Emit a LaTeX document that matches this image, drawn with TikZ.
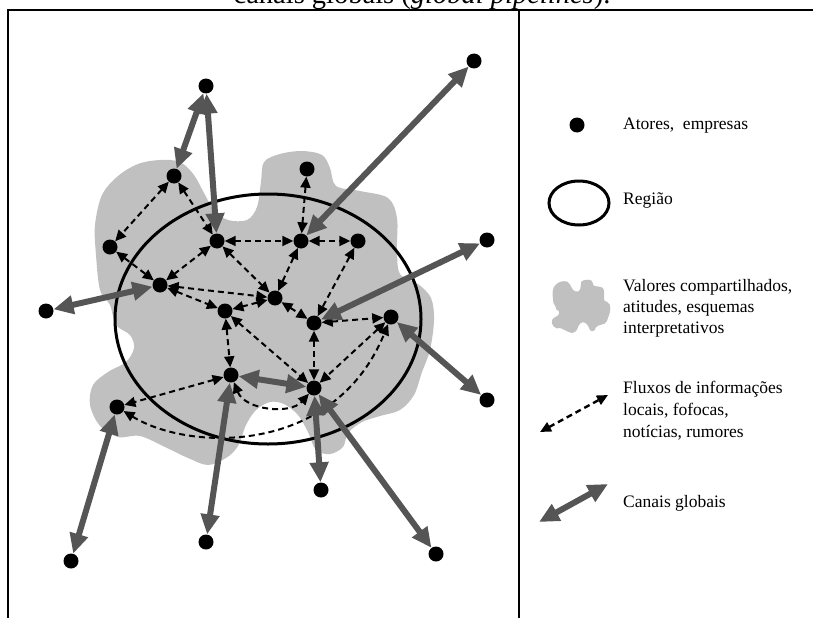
\documentclass[tikz,border=0pt]{standalone}
\usepackage{fontspec}
\setmainfont{Liberation Serif}
\usetikzlibrary{arrows.meta}
\definecolor{pipe}{HTML}{555555}
\definecolor{cloudgray}{HTML}{C0C0C0}
\tikzset{
  dot/.style={circle,fill=black,inner sep=0pt,minimum size=15pt},
  pipeline/.style={draw=pipe,line width=6pt,{Triangle[length=20pt,width=18pt]}-{Triangle[length=20pt,width=18pt]}},
  flow/.style={draw=black,line width=2pt,dash pattern=on 6pt off 4pt,{Triangle[length=11pt,width=10pt]}-{Triangle[length=11pt,width=10pt]}},
  frameline/.style={draw=black,line width=2pt},
  legtext/.style={anchor=base west,inner sep=0pt,font=\fontsize{17.5}{20}\selectfont},
  cloud/.pic={
    \fill[cloudgray] plot[smooth cycle,tension=0.55] coordinates {
      (96,255) (95,225) (102,195) (118,176) (138,164) (160,160) (180,162)
      (194,175) (204,193) (214,210) (228,220) (247,220) (257,207) (261,182)
      (264,162) (280,154) (302,151) (322,155) (330,168) (336,186) (360,191)
      (388,198) (397,218) (397,250) (400,274) (418,284) (431,298) (434,320)
      (430,350) (422,372) (414,395) (400,410) (380,416) (362,422) (348,433)
      (343,447) (330,454) (316,450) (308,432) (298,415) (284,404) (270,402)
      (256,410) (246,425) (238,446) (226,458) (208,465) (188,458) (165,447)
      (140,436) (118,437) (100,426) (90,405) (93,385) (108,372) (126,362)
      (134,348) (130,335) (116,325) (110,305) (100,290)};
  }
}
\begin{document}
\begin{tikzpicture}[x=1pt,y=-1pt]
\useasboundingbox (0,0) rectangle (813,618);

% caption (cut by the page edge, as in the reference)
\node[anchor=base,inner sep=0pt,font=\fontsize{28.5}{32}\selectfont] (caption) at (422,4) {canais globais (\textit{global pipelines}).};

% shared values cloud and region
\pic at (0,0) {cloud};
\draw[line width=3pt] (268,319) ellipse [x radius=153, y radius=125];

% actors
\node[dot] (t1) at (206,86) {};
\node[dot] (tr) at (474,61) {};
\node[dot] (a) at (174,176) {};
\node[dot] (b) at (110,247) {};
\node[dot] (c) at (217,241) {};
\node[dot] (d) at (301,241) {};
\node[dot] (e) at (358,241) {};
\node[dot] (f) at (307,169) {};
\node[dot] (g) at (160,285) {};
\node[dot] (h) at (275,298) {};
\node[dot] (i) at (225,311) {};
\node[dot] (j) at (314,323) {};
\node[dot] (k) at (391,317) {};
\node[dot] (l) at (231,375) {};
\node[dot] (m) at (314,388) {};
\node[dot] (n) at (117,407) {};
\node[dot] (w) at (46,311) {};
\node[dot] (r1) at (487,240) {};
\node[dot] (r2) at (487,400) {};
\node[dot] (b1) at (71,561) {};
\node[dot] (b2) at (206,542) {};
\node[dot] (b3) at (321,490) {};
\node[dot] (b4) at (436,554) {};

% local flows
\draw[flow] (a) -- (b);
\draw[flow] (a) -- (c);
\draw[flow] (b) -- (g);
\draw[flow] (c) -- (g);
\draw[flow] (c) -- (d);
\draw[flow] (c) -- (h);
\draw[flow] (d) -- (e);
\draw[flow] (d) -- (f);
\draw[flow] (d) -- (h);
\draw[flow] (e) -- (j);
\draw[flow] (g) -- (i);
\draw[flow] (g) -- (h);
\draw[flow] (h) -- (i);
\draw[flow] (h) -- (j);
\draw[flow] (j) -- (k);
\draw[flow] (j) -- (m);
\draw[flow] (i) -- (l);
\draw[flow] (i) -- (m);
\draw[flow] (k) -- (m);
\draw[flow] (l) -- (n);
\draw[flow] (l) .. controls (245,410) and (290,415) .. (m);
\draw[flow] (n) .. controls (190,452) and (335,455) .. (k);

% global pipelines
\draw[pipeline] (t1) -- (a);
\draw[pipeline] (t1) -- (c);
\draw[pipeline] (tr) -- (d);
\draw[pipeline] (w) -- (g);
\draw[pipeline] (r1) -- (j);
\draw[pipeline] (k) -- (r2);
\draw[pipeline] (l) -- (m);
\draw[pipeline] (n) -- (b1);
\draw[pipeline] (l) -- (b2);
\draw[pipeline] (m) -- (b3);
\draw[pipeline] (m) -- (b4);

% frame
\draw[frameline] (8,618) -- (8,10) -- (813,10);
\draw[frameline] (519,10) -- (519,618);

% legend
\node[dot] (lgdot) at (577,125) {};
\node[legtext] (lgt1) at (623,129) {Atores,\ \ empresas};
\draw[line width=3pt] (579,203) ellipse [x radius=30, y radius=22];
\node[legtext] (lgt2) at (623,204) {Região};
\pic[scale=0.17] at (536.5,254) {cloud};
\node[legtext] (lgt3a) at (623,291) {Valores compartilhados,};
\node[legtext] (lgt3b) at (623,312) {atitudes, esquemas};
\node[legtext] (lgt3c) at (623,333) {interpretativos};
\coordinate (lf1) at (540,432);
\coordinate (lf2) at (608,395);
\draw[flow,line width=2.4pt] (lf1) -- (lf2);
\node[legtext] (lgt4a) at (623,393) {Fluxos de informações};
\node[legtext] (lgt4b) at (623,415) {locais, fofocas,};
\node[legtext] (lgt4c) at (623,437) {notícias, rumores};
\coordinate (lp1) at (539,522);
\coordinate (lp2) at (608,484);
\draw[pipeline] (lp1) -- (lp2);
\node[legtext] (lgt5) at (623,507) {Canais globais};
\end{tikzpicture}
\end{document}
